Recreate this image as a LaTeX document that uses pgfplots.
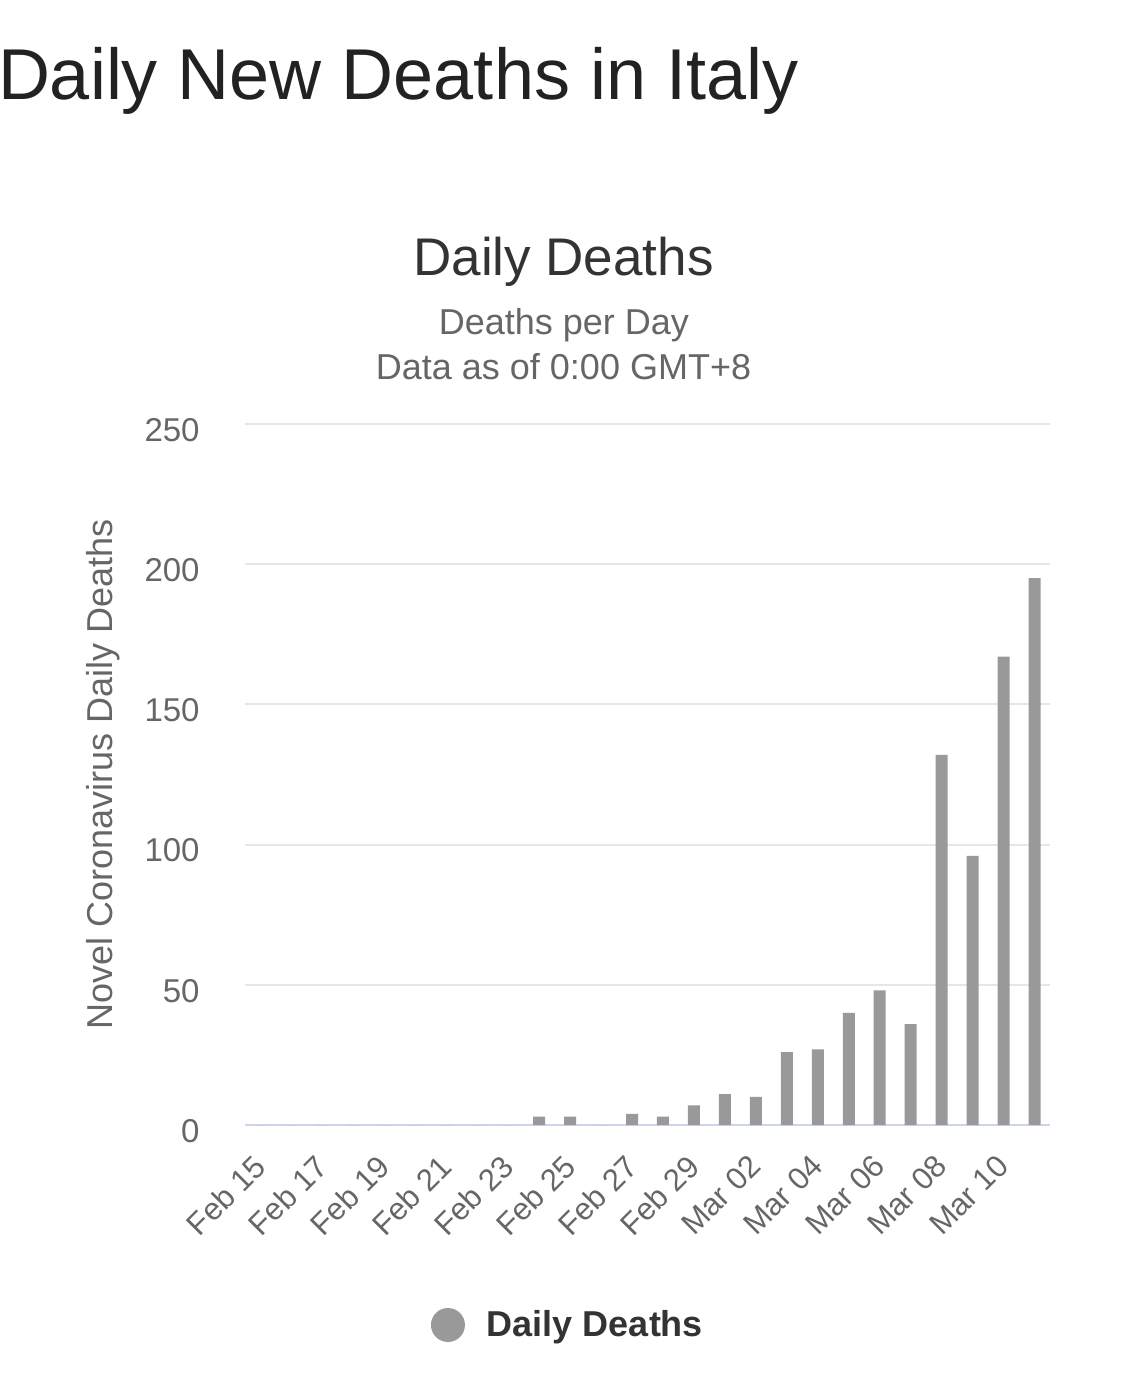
\documentclass[border=0pt]{standalone}
\usepackage{fontspec}
\setmainfont{Liberation Sans}
\usepackage{pgfplots}
\pgfplotsset{compat=1.18}
\definecolor{barc}{HTML}{999999}
\definecolor{titlec}{HTML}{222222}
\definecolor{ctitle}{HTML}{333333}
\definecolor{subc}{HTML}{666666}
\definecolor{gridc}{HTML}{E6E6E6}
\definecolor{basec}{HTML}{CCD6EB}
\begin{document}
\begin{tikzpicture}
\useasboundingbox (0pt,0pt) rectangle (562.5pt,694pt);
\node[anchor=base west, inner sep=0pt, text=titlec, font=\fontsize{36}{43}\selectfont] at (-1.2pt,644pt) {Daily New Deaths in Italy};
\node[anchor=base, inner sep=0pt, text=ctitle, font=\fontsize{26.5}{32}\selectfont] at (281.75pt,556pt) {Daily Deaths};
\node[anchor=base, inner sep=0pt, text=subc, font=\fontsize{18}{22}\selectfont] at (282pt,526.5pt) {Deaths per Day};
\node[anchor=base, inner sep=0pt, text=subc, font=\fontsize{18}{22}\selectfont] at (281.75pt,504pt) {Data as of 0:00 GMT+8};
\begin{axis}[
  at={(122.5pt,131.5pt)}, anchor=south west,
  scale only axis, width=402.5pt, height=350.5pt,
  xmin=-0.5, xmax=25.5, ymin=0, ymax=250,
  axis line style={draw=none},
  major tick length=0pt,
  tick style={draw=none},
  ytick={50,100,150,200,250},
  extra y ticks={0},
  extra y tick style={grid style={color=basec, line width=1pt}},
  ymajorgrids,
  grid style={color=gridc, line width=1pt},
  xtick={0,2,...,24},
  xticklabels={Feb 15,Feb 17,Feb 19,Feb 21,Feb 23,Feb 25,Feb 27,Feb 29,Mar 02,Mar 04,Mar 06,Mar 08,Mar 10},
  /pgf/number format/assume math mode=true,
  yticklabel style={anchor=east, inner sep=0pt, xshift=-22.5pt, yshift=-3pt, text=subc, font=\fontsize{16.5}{20}\selectfont},
  xticklabel style={rotate=45, anchor=north east, inner sep=0pt, xshift=-12.75pt, yshift=-6.75pt, text=subc, font=\fontsize{15.5}{19}\selectfont},
  ylabel={Novel Coronavirus Daily Deaths},
  ylabel style={at={(axis description cs:-0.1764,0.5)}, anchor=center, text=subc, font=\fontsize{18}{22}\selectfont},
  legend style={at={(0.4025,-0.2853)}, anchor=center, draw=none, fill=none,
    font=\fontsize{18}{22}\selectfont\bfseries, text=ctitle,
    /tikz/every even column/.style={column sep=0pt}},
  legend image code/.code={\fill[barc] (0pt,0pt) circle (8.5pt);},
  legend cell align=left,
]
\addplot[ybar, bar width=6pt, fill=barc, draw=none] coordinates {
(0,0) (1,0) (2,0) (3,0) (4,0) (5,0) (6,0) (7,0) (8,0)
(9,3) (10,3) (11,0) (12,4) (13,3) (14,7) (15,11) (16,10)
(17,26) (18,27) (19,40) (20,48) (21,36) (22,132) (23,96) (24,167) (25,195)
};
\addlegendentry{\hspace{9pt}Daily Deaths}
\end{axis}
\end{tikzpicture}
\end{document}
